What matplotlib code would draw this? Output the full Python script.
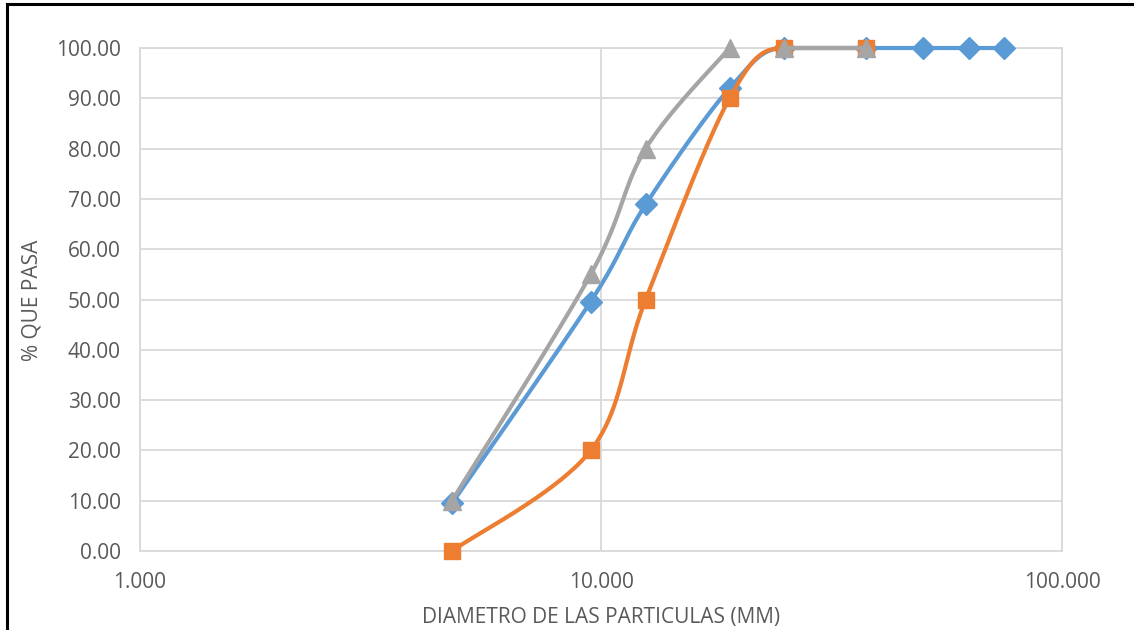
import matplotlib
matplotlib.use("Agg")
import matplotlib.pyplot as plt
import numpy as np

# sieve openings (mm) and percent passing for each sample
tamiz_azul = [4.75, 9.5, 12.5, 19.0, 25.0, 37.5, 50.0, 63.0, 75.0]
pasa_azul = [9.5, 49.6, 68.9, 92.0, 100.0, 100.0, 100.0, 100.0, 100.0]

tamiz_naranja = [4.75, 9.5, 12.5, 19.0, 25.0, 37.5]
pasa_naranja = [0.0, 20.0, 50.0, 90.0, 100.0, 100.0]

# empty cell between 19 and 25 mm breaks the line
tamiz_gris = [4.75, 9.5, 12.5, 19.0, 22.0, 25.0, 37.5]
pasa_gris = [10.0, 55.0, 80.0, 100.0, np.nan, 100.0, 100.0]

plt.rcParams['font.family'] = ['Open Sans', 'DejaVu Sans']
GRIS_TEXTO = '#595959'

fig = plt.figure(figsize=(11.34, 6.3), dpi=100)
ax = fig.add_axes([0.1235, 0.1254, 0.813, 0.7984])
ax.set_xscale('log')
ax.set_xlim(1, 100)
ax.set_ylim(0, 100)


def tramo_suave(pts, n=40):
    # cubic Bezier through screen points, tangents flattened at plateaus
    m = len(pts)
    tang = []
    for i in range(m):
        a = pts[i - 1] if i > 0 else pts[i]
        b = pts[i + 1] if i < m - 1 else pts[i]
        t = (b - a) / 6.0
        if 0 < i < m - 1:
            d0 = pts[i][1] - pts[i - 1][1]
            d1 = pts[i + 1][1] - pts[i][1]
            if abs(d0) < 1e-9 or abs(d1) < 1e-9 or d0 * d1 < 0:
                t = np.array([t[0], 0.0])
        tang.append(t)
    out = [pts[:1]]
    s = np.linspace(0, 1, n)[1:, None]
    for i in range(m - 1):
        p1, p2 = pts[i], pts[i + 1]
        c1 = p1 + tang[i]
        c2 = p2 - tang[i + 1]
        out.append((1 - s) ** 3 * p1 + 3 * (1 - s) ** 2 * s * c1 + 3 * (1 - s) * s ** 2 * c2 + s ** 3 * p2)
    return np.vstack(out)


def suavizar(ax, xs, ys):
    xs = np.asarray(xs, float)
    ys = np.asarray(ys, float)
    ok = ~np.isnan(ys)
    tramos = []
    inicio = None
    for i in range(len(ys) + 1):
        if i < len(ys) and ok[i]:
            if inicio is None:
                inicio = i
        elif inicio is not None:
            tramos.append((inicio, i))
            inicio = None
    curvas = []
    for a, b in tramos:
        pts = ax.transData.transform(np.column_stack([xs[a:b], ys[a:b]]))
        if len(pts) > 1:
            curvas.append(ax.transData.inverted().transform(tramo_suave(pts)))
    return curvas


series = [
    (tamiz_azul, pasa_azul, '#5B9BD5', 'D', 11),
    (tamiz_naranja, pasa_naranja, '#ED7D31', 's', 12),
    (tamiz_gris, pasa_gris, '#A5A5A5', '^', 13),
]
for z, (xs, ys, color, mk, ms) in enumerate(series):
    for curva in suavizar(ax, xs, ys):
        ax.plot(curva[:, 0], curva[:, 1], color=color, lw=3, solid_capstyle='round',
                zorder=3 + z, clip_on=False)
    ax.plot(xs, ys, ls='none', marker=mk, ms=ms, color=color, zorder=3 + z, clip_on=False)

ax.set_yticks(np.arange(0, 101, 10))
ax.set_yticklabels([f"{v:.2f}" for v in np.arange(0, 101, 10)])
ax.set_xticks([1, 10, 100])
ax.set_xticklabels(["1.000", "10.000", "100.000"])
ax.minorticks_off()
ax.tick_params(length=0, labelsize=15, labelcolor=GRIS_TEXTO)
ax.tick_params(axis='y', pad=14)
ax.tick_params(axis='x', pad=15)
ax.grid(True, color='#D9D9D9', lw=1.3)
ax.set_axisbelow(True)
for s in ax.spines.values():
    s.set_color('#D9D9D9')
    s.set_linewidth(1.3)

fig.text(601 / 1134, 1 - 617 / 630, "DIAMETRO DE LAS PARTICULAS (MM)", fontsize=15,
         color=GRIS_TEXTO, ha='center', va='center')
fig.text(32 / 1134, 1 - 300 / 630, "% QUE PASA", fontsize=15, color=GRIS_TEXTO,
         rotation=90, ha='center', va='center')

# outer frame lines of the chart area
fig.add_artist(plt.Line2D([0.0062, 0.0062], [0, 0.993], color='black', lw=2.2, transform=fig.transFigure))
fig.add_artist(plt.Line2D([0.0062, 1.0], [0.993, 0.993], color='black', lw=2.2, transform=fig.transFigure))

fig.savefig("out.png", dpi=100)
